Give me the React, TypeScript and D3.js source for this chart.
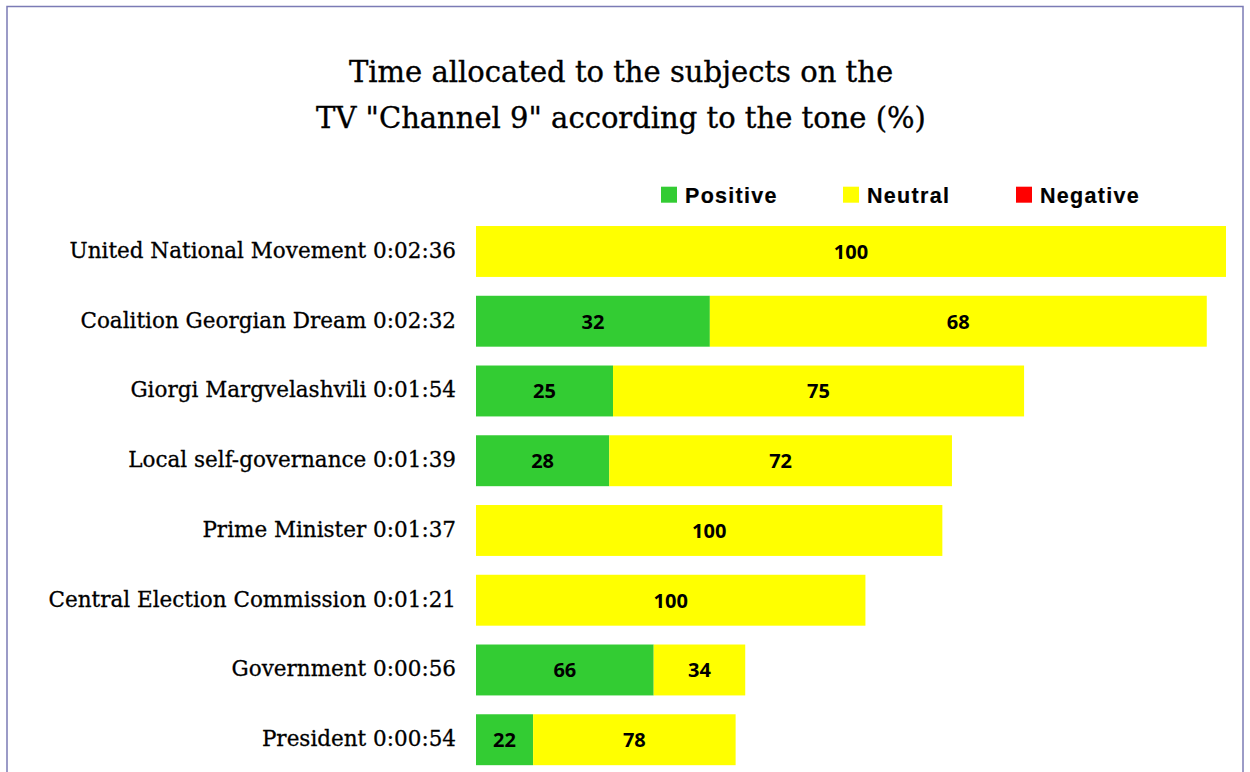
import React from "react";
import * as d3 from "d3";

const categories = [
  "United National Movement",
  "Coalition Georgian Dream",
  "Giorgi Margvelashvili",
  "Local self-governance",
  "Prime Minister",
  "Central Election Commission",
  "Government",
  "President",
];
const durations = ["0:02:36", "0:02:32", "0:01:54", "0:01:39", "0:01:37", "0:01:21", "0:00:56", "0:00:54"];
const positive = [0, 32, 25, 28, 0, 0, 66, 22];
const neutral = [100, 68, 75, 72, 100, 100, 34, 78];
const negative = [0, 0, 0, 0, 0, 0, 0, 0];
const seriesNames = ["Positive", "Neutral", "Negative"];
const seriesColors = ["#33cc33", "#ffff00", "#ff0000"];
const titleLines = ["Time allocated to the subjects on the", 'TV "Channel 9" according to the tone (%)'];

const toSeconds = (s: string) => {
  const [h, m, sec] = s.split(":").map(Number);
  return h * 3600 + m * 60 + sec;
};

export default function App() {
  const W = 1250, H = 772;
  const secs = durations.map(toSeconds);
  const x = d3.scaleLinear().domain([0, d3.max(secs) as number]).range([476, 1226]);
  const y = d3.scaleBand<string>().domain(categories).range([216.6, 774.6]).paddingInner(0.27).paddingOuter(0.135);
  const series = [positive, neutral, negative];
  const legendX = [661, 843, 1016];

  return (
    <svg width={W} height={H} style={{ position: "absolute", left: 0, top: 0, background: "#fff" }}>
      <rect x={7} y={6.5} width={1236} height={800} fill="#fff" stroke="#7b7bb5" strokeWidth={1.5} />
      {titleLines.map((t, i) => (
        <text key={i} x={621} y={82 + i * 46} textAnchor="middle" fontFamily="DejaVu Serif" fontSize={29} fill="#000" stroke="#000" strokeWidth={0.35}>
          {t}
        </text>
      ))}
      {seriesNames.map((n, i) => {
        const lx = legendX[i];
        return (
          <g key={n}>
            <rect x={lx} y={186.7} width={16} height={16} fill={seriesColors[i]} />
            <text x={lx + 24} y={202.7} fontFamily="Liberation Sans" fontWeight="bold" fontSize={21.5} letterSpacing={1.3} fill="#000" stroke="#000" strokeWidth={0.2}>
              {n}
            </text>
          </g>
        );
      })}
      {categories.map((c, i) => {
        const by = y(c) as number;
        const bh = y.bandwidth();
        const total = secs[i];
        let acc = 0;
        return (
          <g key={c}>
            <text x={456} y={by + bh / 2 + 6.5} textAnchor="end" fontFamily="DejaVu Serif" fontSize={21.5} fill="#000" stroke="#000" strokeWidth={0.3}>
              {c} {durations[i]}
            </text>
            {series.map((s, j) => {
              const v = s[i];
              const x0 = x((total * acc) / 100);
              acc += v;
              const x1 = x((total * acc) / 100);
              if (v <= 0) return null;
              return (
                <g key={j}>
                  <rect x={x0} y={by} width={x1 - x0} height={bh} fill={seriesColors[j]} />
                  <text x={(x0 + x1) / 2} y={by + bh / 2 + 7.5} textAnchor="middle" fontFamily="Open Sans" fontWeight="bold" fontSize={20} fill="#000">
                    {v}
                  </text>
                </g>
              );
            })}
          </g>
        );
      })}
    </svg>
  );
}
